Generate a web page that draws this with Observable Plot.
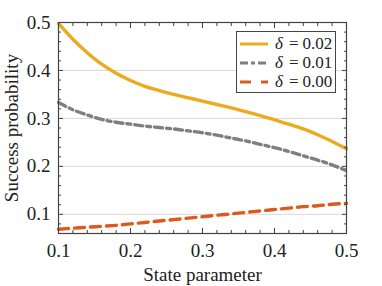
<!DOCTYPE html>
<html><head><meta charset="utf-8">
<script src="https://cdn.jsdelivr.net/npm/d3@7"></script>
<script src="https://cdn.jsdelivr.net/npm/@observablehq/plot@0.6"></script>
<style>
body{margin:0;background:#fff;}
#wrap{position:relative;width:382px;height:286px;font-family:"Liberation Serif",serif;}
#legend{position:absolute;left:236px;top:31px;width:100px;height:62px;border:1px solid #444;background:#fff;box-sizing:border-box;font-size:17px;color:#222;font-family:"Liberation Serif",serif;}
#legend .row{position:absolute;left:2px;height:19px;display:flex;align-items:center;}
#legend .row span{margin-left:6px;white-space:nowrap;}
#legend .eq{margin:0 4px;}
</style></head>
<body><div id="wrap"><div id="chart"></div><div id="legend"></div></div>
<script>
const xs = [0.10,0.12,0.14,0.16,0.18,0.20,0.22,0.24,0.26,0.28,0.30,0.32,0.34,0.36,0.38,0.40,0.42,0.44,0.46,0.48,0.50];
const d002 = [0.498,0.465,0.437,0.413,0.394,0.379,0.367,0.358,0.350,0.343,0.336,0.329,0.322,0.314,0.306,0.297,0.288,0.278,0.266,0.252,0.237];
const d001 = [0.333,0.318,0.307,0.298,0.292,0.288,0.284,0.281,0.278,0.274,0.270,0.265,0.259,0.253,0.246,0.239,0.231,0.222,0.213,0.203,0.191];
const d000 = [0.069,0.071,0.073,0.075,0.077,0.080,0.083,0.086,0.089,0.092,0.095,0.098,0.101,0.104,0.107,0.110,0.113,0.116,0.118,0.121,0.123];
const seriesSymbol = ["δ","δ","δ"];
const seriesValue = ["0.02","0.01","0.00"];
const seriesColors = ["#ebab1f","#7f7f7f","#dd5a1e"];
const seriesDash = [null,"8,4,4,4","10,6"];
const xTicks = [0.1,0.2,0.3,0.4,0.5];
const yTicks = [0.1,0.2,0.3,0.4,0.5];
const xMinor = [0.12,0.14,0.16,0.18,0.22,0.24,0.26,0.28,0.32,0.34,0.36,0.38,0.42,0.44,0.46,0.48];
const yMinor = [0.06,0.08,0.12,0.14,0.16,0.18,0.22,0.24,0.26,0.28,0.32,0.34,0.36,0.38,0.42,0.44,0.46,0.48];

const allSeries = [d002,d001,d000];
const rows = allSeries.flatMap((arr,s)=>arr.map((v,i)=>({x:xs[i],y:v,s})));

const lineMarks = allSeries.map((arr,s)=>Plot.line(rows.filter(r=>r.s===s),{
  x:"x",y:"y",stroke:seriesColors[s],strokeWidth:3.4,strokeDasharray:seriesDash[s],curve:"catmull-rom"}));

const tickStyle = {stroke:"#444",strokeOpacity:1};
const chart = Plot.plot({
  width:382,height:286,
  marginLeft:58,marginRight:36,marginTop:22,marginBottom:53,
  style:{fontFamily:"'Liberation Serif', serif",fontSize:"19px",color:"#222",background:"#fff"},
  x:{domain:[0.1,0.5]},
  y:{domain:[0.06,0.5]},
  marks:[
    Plot.gridY(yTicks,{stroke:"#d8d8d8",strokeOpacity:1,strokeWidth:1}),
    ...lineMarks,
    Plot.frame({stroke:"#444",strokeWidth:1.2}),
    Plot.axisX(xTicks,{anchor:"bottom",tickSize:-5,tickFormat:()=>"",label:null,...tickStyle}),
    Plot.axisX(xMinor,{anchor:"bottom",tickSize:-3,tickFormat:()=>"",label:null,...tickStyle}),
    Plot.axisX(xTicks,{anchor:"top",tickSize:-5,tickFormat:()=>"",label:null,...tickStyle}),
    Plot.axisX(xMinor,{anchor:"top",tickSize:-3,tickFormat:()=>"",label:null,...tickStyle}),
    Plot.axisY(yTicks,{anchor:"left",tickSize:-5,tickFormat:()=>"",label:null,...tickStyle}),
    Plot.axisY(yMinor,{anchor:"left",tickSize:-3,tickFormat:()=>"",label:null,...tickStyle}),
    Plot.axisY(yTicks,{anchor:"right",tickSize:-5,tickFormat:()=>"",label:null,...tickStyle}),
    Plot.axisY(yMinor,{anchor:"right",tickSize:-3,tickFormat:()=>"",label:null,...tickStyle}),
    Plot.axisX(xTicks,{anchor:"bottom",tickSize:0,tickPadding:10,tickFormat:d3.format(".1f"),fontSize:19,
      label:"State parameter",labelAnchor:"center",labelOffset:47,labelArrow:"none",fill:"#222"}),
    Plot.axisY(yTicks,{anchor:"left",tickSize:0,tickPadding:8,tickFormat:d3.format(".1f"),fontSize:19,
      label:"Success probability",labelAnchor:"center",labelOffset:54,labelArrow:"none",fill:"#222"})
  ]
});
document.getElementById("chart").appendChild(chart);

const leg = document.getElementById("legend");
seriesValue.forEach((val,i)=>{
  const row = document.createElement("div");
  row.className="row";
  row.style.top = (2+i*19)+"px";
  const dash = i===0 ? "" : `stroke-dasharray="${i===2?"11,10":"8,3,4,3"}"`;
  row.innerHTML = `<svg width="30" height="8"><line x1="1" y1="4" x2="29" y2="4" stroke="${seriesColors[i]}" stroke-width="3" ${dash}/></svg><span><i>${seriesSymbol[i]}</i><span class="eq">=</span>${val}</span>`;
  leg.appendChild(row);
});
</script></body></html>
